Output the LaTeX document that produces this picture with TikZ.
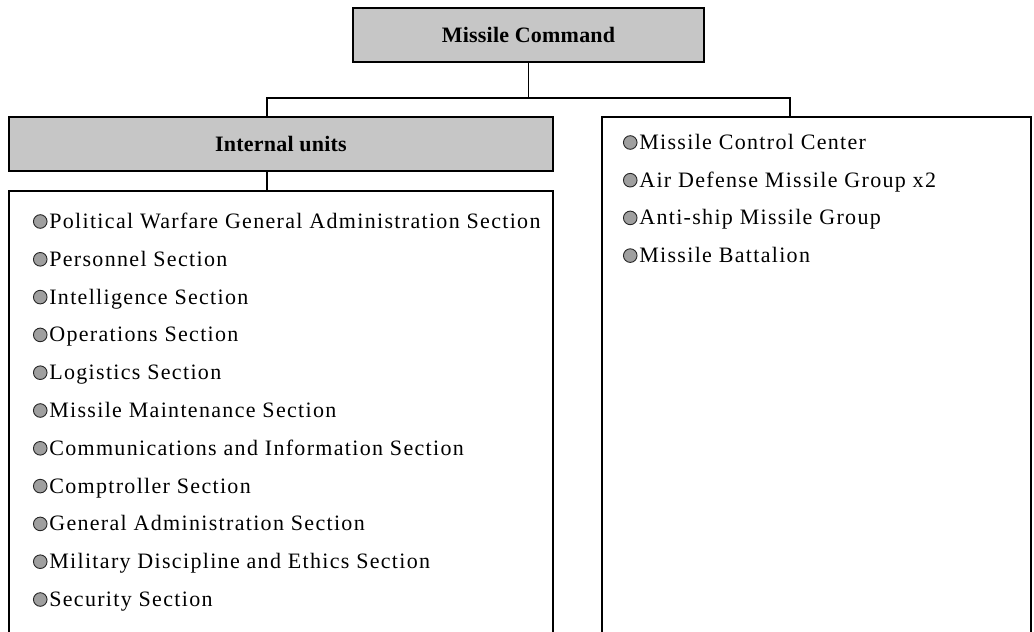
\documentclass[tikz,border=0pt]{standalone}
\usepackage{fontspec}
\setmainfont{Liberation Serif}
\newfontfamily\itemfont{Liberation Serif}[LetterSpace=6]
\newfontfamily\headfont{Liberation Serif}[LetterSpace=1]
\newcommand\blt{\tikz[baseline=0pt]\draw[fill=gray!75,draw=black!85,line width=0.9pt] (0pt,7pt) circle (6.8pt);\hspace{1.8pt}}
\begin{document}
\begin{tikzpicture}[x=1pt,y=-1pt,
  box/.style={draw=black,line width=1.8pt,inner sep=0pt,outer sep=0pt},
  headbox/.style={box,fill=gray!45,font=\headfont\bfseries\fontsize{22}{26}\selectfont},
  listbox/.style={box,line width=1.5pt},
  item/.style={anchor=base west,inner sep=0pt,outer sep=0pt,font=\itemfont\fontsize{22}{26}\selectfont},
  conn/.style={line width=1.8pt}]
\useasboundingbox (0,0) rectangle (1034,632);
% boxes
\node[headbox,minimum width=351pt,minimum height=54pt] (top) at (528.5,35) {Missile Command};
\node[headbox,minimum width=544pt,minimum height=54pt] (iu) at (281,144) {Internal units};
\node[listbox,minimum width=544pt,minimum height=470pt] (ll) at (281,426) {};
\node[listbox,minimum width=429pt,minimum height=545pt] (rb) at (816.5,389.5) {};
% connectors
\draw[conn] (top.south) -- ++(0,36) coordinate (j);
\draw[conn] (j) -| ([xshift=-14pt]iu.north);
\draw[conn] (j) -| ([xshift=-26.5pt]rb.north);
\draw[conn] ([xshift=-14pt]iu.south) -- ([xshift=-14pt]ll.north);
% left items
\node[item] (l1) at (33,228.5) {\blt Political Warfare General Administration Section};
\node[item] (l2) at (33,266.3) {\blt Personnel Section};
\node[item] (l3) at (33,304.1) {\blt Intelligence Section};
\node[item] (l4) at (33,341.9) {\blt Operations Section};
\node[item] (l5) at (33,379.7) {\blt Logistics Section};
\node[item] (l6) at (33,417.5) {\blt Missile Maintenance Section};
\node[item] (l7) at (33,455.3) {\blt Communications and Information Section};
\node[item] (l8) at (33,493.1) {\blt Comptroller Section};
\node[item] (l9) at (33,530.9) {\blt General Administration Section};
\node[item] (l10) at (33,568.7) {\blt Military Discipline and Ethics Section};
\node[item] (l11) at (33,606.5) {\blt Security Section};
% right items
\node[item] (r1) at (623,149.5) {\blt Missile Control Center};
\node[item] (r2) at (623,187.2) {\blt Air Defense Missile Group x2};
\node[item] (r3) at (623,224.9) {\blt Anti-ship Missile Group};
\node[item] (r4) at (623,262.6) {\blt Missile Battalion};
\end{tikzpicture}
\end{document}
